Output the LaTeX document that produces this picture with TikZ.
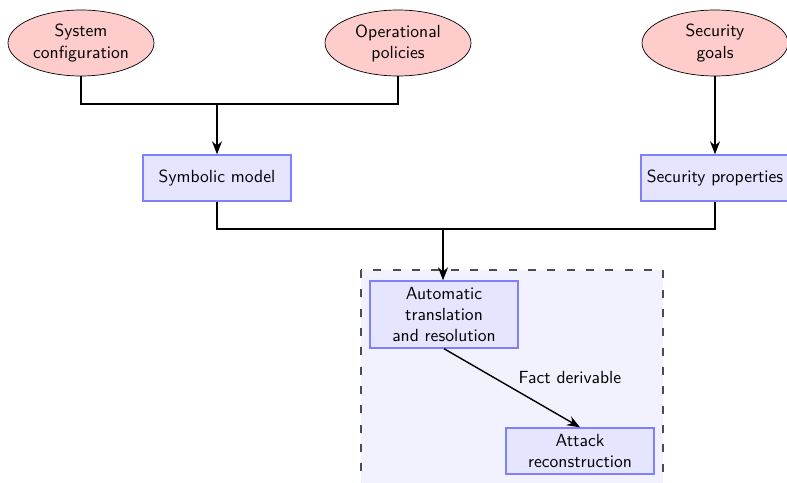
\documentclass[tikz,border=0pt]{standalone}
\usepackage{tikz}
\usetikzlibrary{positioning,arrows.meta,shapes.geometric,backgrounds}

\begin{document}
\begin{tikzpicture}[x=0.02cm, y=-0.02cm, font=\sffamily,
  input/.style={ellipse, draw, fill=red!20, align=center, inner sep=1pt,
                minimum width=2.92cm, minimum height=1.32cm},
  block/.style={draw=blue!50, thick, fill=blue!10, align=center, inner sep=3pt,
                minimum width=2.96cm, minimum height=0.92cm},
  tool/.style={draw=black!70, line width=0.7pt, dash pattern=on 4.5pt off 6.5pt, fill=blue!5},
  link/.style={thick},
  arr/.style={thick, -{Stealth[length=2.6mm, width=2mm]}}]
\useasboundingbox (0,0) rectangle (787,483);

% the tool boundary
\draw[tool] (361,270) rectangle (663,500);

% inputs
\node[input] (syscfg) at (81,43) {System\\configuration};
\node[input] (oppol) at (398,43) {Operational\\policies};
\node[input] (secgoal) at (715,43) {Security\\goals};

% models
\node[block] (symb) at (217,178) {Symbolic model};
\node[block] (secprop) at (715,178) {Security properties};

% inside the tool
\node[block, minimum height=1.34cm] (auto) at (444,314.5) {Automatic\\translation\\and resolution};
\node[block] (attack) at (580,451) {Attack\\reconstruction};

% arrows
\coordinate (j1) at (217,104);
\coordinate (j2) at (443,229);
\draw[link] (syscfg.south) |- (j1) -| (oppol.south);
\draw[arr] (j1) -- (symb.north);
\draw[arr] (secgoal.south) -- (secprop.north);
\draw[link] (symb.south) |- (j2) -| (secprop.south);
\draw[arr] (j2) -- (auto.north -| j2);
\draw[arr] (auto.south) -- node[above right=-1pt and 0pt] {Fact derivable} (attack.north);
\end{tikzpicture}
\end{document}
